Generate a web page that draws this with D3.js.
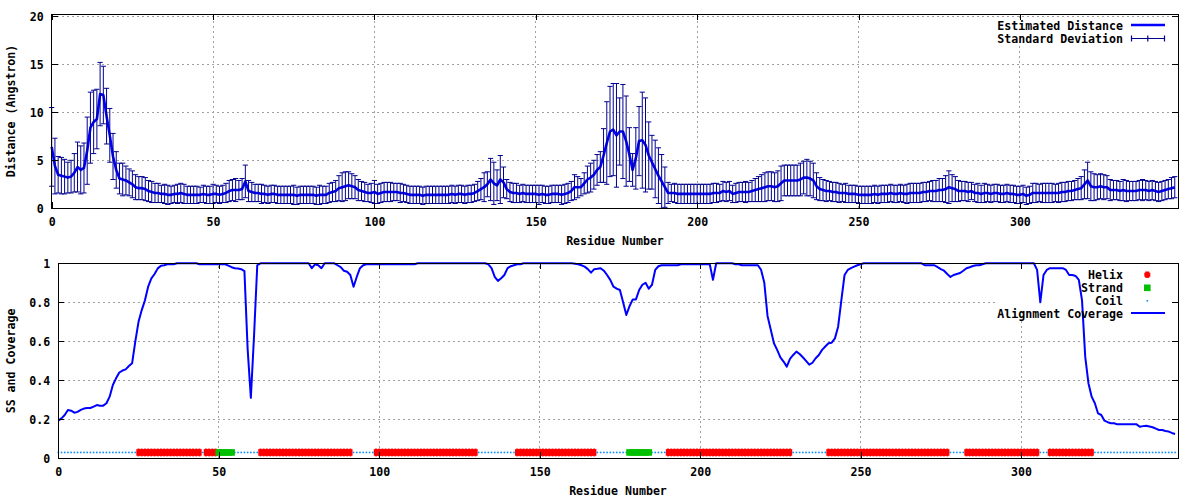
<!DOCTYPE html>
<html><head><meta charset="utf-8">
<script src="https://cdn.jsdelivr.net/npm/d3@7"></script>
<style>
body{margin:0;background:#fff;}
svg text{font-family:"DejaVu Sans Mono","Liberation Mono",monospace;font-weight:bold;font-size:11.6px;fill:#000;}
</style></head><body>
<svg id="c" width="1200" height="500"></svg>
<script>
// ---------- data ----------
const distanceMean = [
6.4,4.4,3.5,3.4,3.3,3.2,3.3,3.7,4.3,4.0,
4.2,6.0,8.4,9.0,9.3,11.9,11.8,9.6,7.6,5.4,
4.0,3.1,3.0,2.9,2.7,2.5,2.2,2.1,2.1,2.0,
1.8,1.7,1.6,1.6,1.5,1.5,1.4,1.4,1.5,1.5,
1.6,1.5,1.4,1.4,1.4,1.4,1.4,1.5,1.4,1.4,
1.5,1.5,1.4,1.5,1.6,1.8,1.9,1.9,1.9,2.0,
2.8,1.8,1.7,1.6,1.6,1.5,1.5,1.4,1.5,1.5,
1.4,1.4,1.4,1.4,1.4,1.4,1.3,1.4,1.4,1.4,
1.4,1.4,1.3,1.4,1.4,1.4,1.6,1.7,1.8,2.1,
2.2,2.3,2.4,2.3,2.2,1.9,1.8,1.7,1.6,1.6,
1.7,1.5,1.6,1.7,1.7,1.7,1.7,1.7,1.6,1.6,
1.5,1.4,1.4,1.4,1.4,1.3,1.4,1.4,1.4,1.4,
1.4,1.4,1.4,1.4,1.5,1.4,1.5,1.5,1.4,1.5,
1.5,1.6,1.8,2.0,2.2,2.5,3.0,2.6,2.4,3.0,
2.7,2.0,1.7,1.6,1.6,1.5,1.6,1.5,1.5,1.5,
1.5,1.4,1.5,1.4,1.4,1.5,1.5,1.5,1.4,1.5,
1.6,1.8,2.2,2.2,2.2,2.6,3.0,3.2,3.5,4.0,
4.3,5.5,6.8,8.0,8.2,7.6,8.0,8.0,7.0,5.6,
4.0,5.2,7.0,7.1,6.6,5.5,4.8,4.1,3.4,2.8,
2.2,1.6,1.6,1.6,1.5,1.5,1.5,1.5,1.5,1.5,
1.5,1.5,1.5,1.5,1.5,1.6,1.6,1.6,1.8,1.7,
1.8,1.5,1.6,1.7,1.7,1.7,1.7,1.8,1.9,2.0,
2.1,2.2,2.3,2.3,2.2,2.3,2.6,2.9,2.9,2.9,
2.9,2.9,3.0,3.2,3.2,3.1,2.9,2.3,2.0,1.9,
1.8,1.8,1.7,1.7,1.6,1.6,1.6,1.5,1.5,1.5,
1.4,1.4,1.4,1.4,1.4,1.5,1.4,1.5,1.5,1.5,
1.6,1.5,1.5,1.6,1.5,1.5,1.6,1.6,1.6,1.6,
1.7,1.7,1.8,1.8,1.8,1.9,1.9,2.0,2.2,2.1,
2.0,1.8,1.8,1.8,1.7,1.8,1.6,1.6,1.5,1.6,
1.6,1.5,1.6,1.6,1.5,1.5,1.6,1.5,1.5,1.4,
1.4,1.5,1.3,1.4,1.6,1.6,1.6,1.6,1.6,1.6,
1.6,1.6,1.6,1.7,1.7,1.8,1.8,1.9,2.0,2.1,
2.5,2.9,2.3,2.2,2.2,2.3,2.2,2.2,1.9,1.9,
1.9,1.8,1.9,1.8,1.8,1.8,1.8,1.9,1.9,1.9,
1.8,1.9,1.8,1.7,1.8,1.9,2.0,2.1,2.2];

const distanceSD = [
4.1,2.9,1.9,1.9,1.8,1.6,1.7,2.0,2.6,2.5,
2.6,3.5,3.7,3.3,3.1,3.3,3.0,2.9,2.8,2.4,
1.9,1.6,1.7,1.5,1.4,1.4,1.3,1.2,1.2,1.2,
1.1,1.1,1.0,1.0,0.9,1.0,1.0,0.9,0.9,1.0,
1.0,1.0,0.9,0.9,0.9,0.9,0.8,0.9,0.9,0.9,
1.0,0.9,0.9,0.9,1.0,1.1,1.1,1.2,1.0,1.1,
1.7,1.1,1.0,0.9,0.9,1.0,0.9,0.9,0.9,0.9,
0.9,0.9,0.9,0.9,0.9,1.0,0.9,0.9,0.9,0.9,
0.9,0.9,0.9,1.0,0.9,0.9,1.0,1.0,1.1,1.3,
1.5,1.5,1.4,1.3,1.2,1.1,1.0,1.0,0.9,1.0,
1.2,1.0,1.0,1.0,1.0,1.0,0.9,0.9,1.0,0.9,
0.9,0.9,0.9,0.9,0.9,0.9,0.9,0.9,0.9,0.9,
0.9,0.9,0.9,0.9,0.9,0.9,0.9,0.9,0.9,0.9,
0.9,0.9,1.0,1.1,1.5,1.3,2.2,2.2,1.6,2.5,
1.6,1.0,1.0,1.0,1.0,0.9,0.9,0.9,0.9,0.9,
0.9,1.0,0.9,0.9,0.9,0.9,0.9,0.9,1.0,1.0,
1.0,1.0,1.3,1.1,0.9,1.1,1.4,1.5,1.5,1.6,
1.6,2.8,4.3,4.7,4.8,5.4,3.5,4.9,4.7,2.8,
1.7,3.2,3.6,5.0,4.9,3.5,2.8,3.0,2.9,2.8,
2.1,1.1,0.9,1.0,1.0,1.0,1.0,1.0,1.0,1.0,
1.0,1.0,1.0,1.0,1.0,1.0,1.0,0.9,1.0,1.0,
1.0,0.9,1.0,1.0,1.0,1.1,1.0,1.1,1.2,1.3,
1.4,1.5,1.5,1.5,1.5,1.6,1.8,1.6,1.6,1.6,
1.6,1.6,1.7,1.7,1.9,1.8,1.8,1.4,1.2,1.1,
1.1,1.0,1.0,1.0,1.0,0.9,1.0,0.9,0.9,0.9,
0.9,0.9,0.9,0.9,0.9,0.9,0.9,0.9,0.9,0.9,
0.9,0.9,0.9,0.9,0.9,1.0,1.0,1.0,1.0,1.0,
1.0,1.0,1.0,1.1,1.1,1.2,1.2,1.4,1.7,1.4,
1.3,1.1,1.0,1.0,1.0,0.9,0.9,1.0,0.9,1.0,
0.9,0.9,0.9,0.9,0.9,0.9,0.9,0.9,0.9,0.9,
0.9,0.9,0.9,0.9,1.0,1.0,0.9,1.0,1.0,1.0,
1.0,0.9,1.0,1.0,1.0,1.0,1.0,1.0,1.1,1.2,
1.5,1.9,1.5,1.4,1.3,1.3,1.3,1.2,1.1,1.0,
1.0,1.0,1.1,1.1,1.0,1.0,1.0,1.0,1.1,1.0,
1.0,1.0,1.0,1.0,1.0,1.0,1.0,1.1,1.1];

const alignmentCoverage = [
0.193,0.205,0.222,0.248,0.244,0.234,0.238,0.248,0.255,0.258,
0.258,0.265,0.273,0.270,0.270,0.282,0.316,0.376,0.410,0.440,
0.450,0.456,0.473,0.487,0.600,0.700,0.760,0.810,0.880,0.923,
0.945,0.974,0.988,0.990,0.995,0.995,0.995,1.000,1.000,1.000,
1.000,1.000,1.000,1.000,0.995,0.995,0.995,0.995,0.995,0.995,
0.995,0.995,0.995,0.988,0.980,0.975,0.973,0.970,0.960,0.560,
0.310,0.630,0.990,1.000,1.000,1.000,1.000,1.000,1.000,1.000,
1.000,1.000,1.000,1.000,1.000,1.000,1.000,1.000,1.000,0.975,
0.995,0.990,0.975,1.000,1.000,1.000,1.000,0.990,0.980,0.962,
0.957,0.940,0.880,0.930,0.975,0.990,0.995,0.995,0.995,0.995,
0.995,0.995,0.995,0.995,0.995,0.995,0.995,0.995,0.995,0.995,
0.995,0.995,1.000,1.000,1.000,1.000,1.000,1.000,1.000,1.000,
1.000,1.000,1.000,1.000,1.000,1.000,1.000,1.000,1.000,1.000,
1.000,1.000,1.000,1.000,0.995,0.975,0.930,0.910,0.923,0.940,
0.975,0.985,0.990,0.995,0.995,1.000,1.000,1.000,1.000,1.000,
1.000,1.000,1.000,1.000,1.000,1.000,1.000,1.000,1.000,1.000,
1.000,0.998,0.995,0.990,0.983,0.970,0.952,0.970,0.972,0.975,
0.962,0.940,0.915,0.880,0.870,0.863,0.800,0.735,0.780,0.815,
0.815,0.863,0.890,0.900,0.870,0.890,0.966,0.985,0.990,0.990,
0.990,0.990,0.990,0.990,0.995,0.995,0.995,0.995,0.995,0.995,
0.995,0.995,0.995,0.995,0.915,1.000,1.000,1.000,1.000,1.000,
1.000,0.995,0.995,0.990,0.990,0.990,0.990,0.990,0.990,0.966,
0.900,0.730,0.660,0.590,0.556,0.518,0.496,0.470,0.510,0.530,
0.547,0.535,0.518,0.500,0.480,0.490,0.513,0.530,0.556,0.573,
0.590,0.593,0.615,0.675,0.810,0.940,0.966,0.975,0.983,0.990,
0.995,1.000,1.000,1.000,1.000,1.000,1.000,1.000,1.000,1.000,
1.000,1.000,1.000,1.000,1.000,1.000,1.000,1.000,1.000,1.000,
0.990,0.990,0.990,0.990,0.980,0.970,0.962,0.945,0.930,0.940,
0.945,0.950,0.962,0.975,0.980,0.986,0.990,0.990,0.995,1.000,
1.000,1.000,1.000,1.000,1.000,1.000,1.000,1.000,1.000,1.000,
1.000,1.000,1.000,1.000,1.000,0.966,0.800,0.940,0.966,0.975,
0.975,0.975,0.975,0.975,0.966,0.940,0.940,0.935,0.915,0.810,
0.520,0.385,0.316,0.282,0.230,0.222,0.193,0.185,0.180,0.180,
0.174,0.174,0.174,0.174,0.174,0.174,0.174,0.162,0.165,0.167,
0.163,0.159,0.152,0.145,0.145,0.140,0.137,0.130,0.125];

const helixRanges  = [[25,44],[46,49],[63,91],[99,130],[143,167],[190,228],[240,277],[283,305],[309,322]];
const strandRanges = [[50,54],[178,184]];
const ssLevel = 0.03;

const xTicks = [0,50,100,150,200,250,300];
const yTicksTop = [0,5,10,15,20];
const yTicksBottom = [0,0.2,0.4,0.6,0.8,1];
const yTickLabelsBottom = ["0","0.2","0.4","0.6","0.8","1"];

// ---------- drawing ----------
const svg = d3.select("#c");
const N = distanceMean.length;
const residues = d3.range(N);

function frame(g, x, y, xt, yt){
  const [x0,x1] = x.range(), [y0,y1] = y.range();
  const grid = g.append("g").attr("stroke","#a0a0a0").attr("stroke-width",1).attr("stroke-dasharray","2,3").attr("shape-rendering","crispEdges");
  xt.forEach(t=>grid.append("line").attr("x1",x(t)).attr("x2",x(t)).attr("y1",y0).attr("y2",y1));
  yt.forEach(t=>grid.append("line").attr("x1",x0).attr("x2",x1).attr("y1",y(t)).attr("y2",y(t)));
}
function axes(g, x, y, xt, yt, yfmt){
  const [x0,x1] = x.range(), [y0,y1] = y.range();
  const ax = (sel)=>{sel.select(".domain").remove(); sel.selectAll("line").attr("stroke","#000").attr("shape-rendering","crispEdges"); sel.selectAll("text").attr("font-family",null).attr("font-size",null);};
  g.append("g").attr("transform",`translate(0,${y0})`).call(d3.axisBottom(x).tickValues(xt).tickSize(-6).tickPadding(9).tickFormat(d3.format("d"))).call(ax);
  g.append("g").attr("transform",`translate(0,${y1})`).call(d3.axisTop(x).tickValues(xt).tickSize(-6).tickFormat("")).call(ax);
  g.append("g").attr("transform",`translate(${x0},0)`).call(d3.axisLeft(y).tickValues(yt).tickSize(-6).tickPadding(8).tickFormat(yfmt)).call(ax);
  g.append("g").attr("transform",`translate(${x1},0)`).call(d3.axisRight(y).tickValues(yt).tickSize(-6).tickFormat("")).call(ax);
  g.append("rect").attr("x",x0).attr("y",y1).attr("width",x1-x0).attr("height",y0-y1)
    .attr("fill","none").attr("stroke","#000").attr("stroke-width",1).attr("shape-rendering","crispEdges");
}

// ---- top chart ----
const xT = d3.scaleLinear().domain([0,349]).range([51.7,1178]);
const yT = d3.scaleLinear().domain([0,20.21]).range([208.3,14.3]);
const gT = svg.append("g");
frame(gT, xT, yT, xTicks, yTicksTop);
gT.append("rect").attr("x",995).attr("y",18).attr("width",177).attr("height",28).attr("fill","#fff");

gT.append("path").datum(residues)
  .attr("fill","none").attr("stroke","#0000ff").attr("stroke-width",2.6).attr("stroke-linejoin","round")
  .attr("d", d3.line().x(i=>xT(i)).y(i=>yT(distanceMean[i])));

const eb = gT.append("g").attr("stroke","#00008f").attr("stroke-width",1);
residues.forEach(i=>{
  const cx = xT(i), lo = yT(distanceMean[i]-distanceSD[i]), hi = yT(distanceMean[i]+distanceSD[i]);
  eb.append("line").attr("x1",cx).attr("x2",cx).attr("y1",lo).attr("y2",hi);
  eb.append("line").attr("x1",cx-2.6).attr("x2",cx+2.6).attr("y1",lo).attr("y2",lo);
  eb.append("line").attr("x1",cx-2.6).attr("x2",cx+2.6).attr("y1",hi).attr("y2",hi);
});
axes(gT, xT, yT, xTicks, yTicksTop, d3.format("d"));

gT.append("text").attr("x",1123).attr("y",25.7).attr("dy","0.35em").attr("text-anchor","end").text("Estimated Distance");
gT.append("line").attr("x1",1131).attr("x2",1165).attr("y1",25).attr("y2",25).attr("stroke","#0000ff").attr("stroke-width",2.6);
gT.append("text").attr("x",1123).attr("y",38.7).attr("dy","0.35em").attr("text-anchor","end").text("Standard Deviation");
const lg = gT.append("g").attr("stroke","#00008f").attr("stroke-width",1.2);
lg.append("line").attr("x1",1131.5).attr("x2",1164.5).attr("y1",38.5).attr("y2",38.5);
[1131.5,1147.8,1164.5].forEach(xx=>lg.append("line").attr("x1",xx).attr("x2",xx).attr("y1",35.5).attr("y2",41.5));

gT.append("text").attr("transform","translate(11,111) rotate(-90)").attr("text-anchor","middle").attr("dy","0.35em").text("Distance (Angstron)");
gT.append("text").attr("x",615).attr("y",241).attr("dy","0.35em").attr("text-anchor","middle").text("Residue Number");

// ---- bottom chart ----
const xB = d3.scaleLinear().domain([0,349]).range([58.3,1178.3]);
const yB = d3.scaleLinear().domain([0,1]).range([458.3,263.3]);
const gB = svg.append("g");
frame(gB, xB, yB, xTicks, yTicksBottom);
gB.append("rect").attr("x",996).attr("y",266).attr("width",176).attr("height",54).attr("fill","#fff");

const ssType = residues.map(i=>{
  if (strandRanges.some(([a,b])=>i>=a&&i<=b)) return "E";
  if (helixRanges.some(([a,b])=>i>=a&&i<=b)) return "H";
  return "C";
});
const ssG = gB.append("g");
residues.filter(i=>ssType[i]==="C").forEach(i=>{
  ssG.append("rect").attr("x",xB(i)-0.8).attr("y",yB(ssLevel)-0.8).attr("width",1.6).attr("height",1.6).attr("fill","#0a8cff");
});
residues.filter(i=>ssType[i]==="H").forEach(i=>{
  const cx = xB(i), cy = yB(ssLevel);
  ssG.append("rect").attr("x",cx-2.2).attr("y",cy-3.3).attr("width",4.4).attr("height",6.6).attr("fill","#ff0000");
  ssG.append("rect").attr("x",cx-1).attr("y",cy-3.9).attr("width",2).attr("height",7.8).attr("fill","#ff0000");
});
residues.filter(i=>ssType[i]==="E").forEach(i=>{
  ssG.append("rect").attr("x",xB(i)-3.3).attr("y",yB(ssLevel)-3.3).attr("width",6.6).attr("height",6.6).attr("fill","#00c000");
});

gB.append("path").datum(residues)
  .attr("fill","none").attr("stroke","#0000ff").attr("stroke-width",2).attr("stroke-linejoin","round")
  .attr("d", d3.line().x(i=>xB(i)).y(i=>yB(alignmentCoverage[i])));

axes(gB, xB, yB, xTicks, yTicksBottom, (d,i)=>yTickLabelsBottom[i]);

const lb = [["Helix",275],["Strand",287.7],["Coil",300.7],["Alignment Coverage",313.5]];
lb.forEach(([t,yy])=>gB.append("text").attr("x",1123).attr("y",yy).attr("dy","0.35em").attr("text-anchor","end").text(t));
gB.append("rect").attr("x",1145.3).attr("y",271.5).attr("width",4).attr("height",6.4).attr("fill","#ff0000");
gB.append("rect").attr("x",1144.3).attr("y",272.7).attr("width",6).attr("height",4).attr("fill","#ff0000");
gB.append("rect").attr("x",1144).attr("y",284.5).attr("width",6.6).attr("height",6.6).attr("fill","#00c000");
gB.append("rect").attr("x",1146.5).attr("y",300).attr("width",1.6).attr("height",1.6).attr("fill","#0a8cff");
gB.append("line").attr("x1",1131).attr("x2",1165).attr("y1",313).attr("y2",313).attr("stroke","#0000ff").attr("stroke-width",2);

gB.append("text").attr("transform","translate(11,361) rotate(-90)").attr("text-anchor","middle").attr("dy","0.35em").text("SS and Coverage");
gB.append("text").attr("x",618).attr("y",490.5).attr("dy","0.35em").attr("text-anchor","middle").text("Residue Number");
</script>
</body></html>
